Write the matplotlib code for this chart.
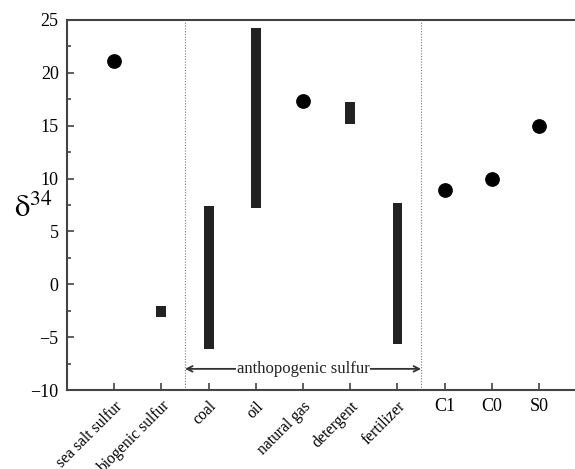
import matplotlib
matplotlib.use("Agg")
import matplotlib.pyplot as plt
import matplotlib.transforms as mtransforms
from matplotlib.ticker import MultipleLocator

plt.rcParams["font.family"] = ["Liberation Serif", "DejaVu Serif"]
plt.rcParams["mathtext.fontset"] = "stix"

categories = ["sea salt sulfur", "biogenic sulfur", "coal", "oil", "natural gas",
              "detergent", "fertilizer", "C1", "C0", "S0"]

# single values (circles)
point_cats = ["sea salt sulfur", "natural gas", "C1", "C0", "S0"]
point_vals = [21.1, 17.3, 8.9, 10.0, 15.0]

# ranges (bars): low, high
range_cats = ["biogenic sulfur", "coal", "oil", "detergent", "fertilizer"]
range_low = [-3.1, -6.1, 7.2, 15.2, -5.6]
range_high = [-2.1, 7.4, 24.2, 17.2, 7.7]

pos = {c: i + 1 for i, c in enumerate(categories)}

fig = plt.figure(figsize=(5.75, 4.69), dpi=100)
ax = fig.add_axes([0.1165, 0.1684, 0.8835, 0.789])

edge = "#444444"
for lo, hi, c in zip(range_low, range_high, range_cats):
    ax.bar(pos[c], hi - lo, bottom=lo, width=0.21, color="#222222", zorder=3)

ax.plot([pos[c] for c in point_cats], point_vals, "o", color="black",
        markersize=9.6, zorder=4)

ax.axvline(2.5, color="#777777", lw=0.8, ls=(0, (1, 1.5)))
ax.axvline(7.5, color="#777777", lw=0.8, ls=(0, (1, 1.5)))

ax.annotate("", xy=(2.5, -8.0), xytext=(7.5, -8.0),
            arrowprops=dict(arrowstyle="<->", color="#333333", lw=1.3,
                            shrinkA=0, shrinkB=0))
ax.text(5.0, -8.0, "anthopogenic sulfur", ha="center", va="center",
        fontsize=12, color="#222222", bbox=dict(fc="white", ec="none", pad=0.3))

ax.set_xlim(0, 10.76)
ax.set_ylim(-10, 25)
ax.yaxis.set_major_locator(MultipleLocator(5))
ax.yaxis.set_minor_locator(MultipleLocator(2.5))
ax.set_xticks(range(1, len(categories) + 1))
ax.set_xticklabels(categories)
shift = mtransforms.ScaledTranslation(13 / 100, 0, fig.dpi_scale_trans)
for lbl, c in zip(ax.get_xticklabels(), categories):
    if c in ("C1", "C0", "S0"):
        lbl.set_rotation(0)
        lbl.set_ha("center")
        lbl.set_fontsize(13)
    else:
        lbl.set_rotation(45)
        lbl.set_ha("right")
        lbl.set_va("top")
        lbl.set_rotation_mode("anchor")
        lbl.set_fontsize(11.3)
        lbl.set_transform(lbl.get_transform() + shift)

ax.tick_params(axis="both", which="both", direction="in", color=edge, width=1.2)
ax.tick_params(axis="y", which="major", length=5, labelsize=13, pad=6)
ax.tick_params(axis="y", which="minor", length=3)
ax.tick_params(axis="x", length=5, pad=6)

for s in ("left", "top", "bottom"):
    ax.spines[s].set_color(edge)
    ax.spines[s].set_linewidth(1.5)
ax.spines["right"].set_visible(False)

fig.text(0.058, 0.555, r"$\mathrm{\delta}^{34}$", fontsize=22, ha="center", va="center")

fig.savefig("out.png", dpi=100)
